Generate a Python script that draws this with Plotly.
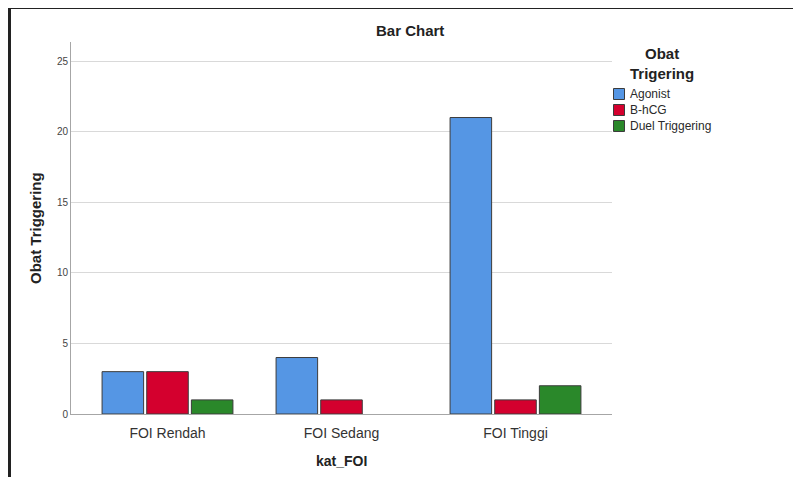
import plotly.graph_objects as go

categories = ["FOI Rendah", "FOI Sedang", "FOI Tinggi"]
agonist = [3, 4, 21]
bhcg = [3, 1, 1]
duel = [1, 0, 2]
series_names = ["Agonist", "B-hCG", "Duel Triggering"]
colors = ["#5596e4", "#d4002e", "#2a882a"]
y_ticks = [0, 5, 10, 15, 20, 25]

# page body has an 8px margin; figure sized to fit 801x477 window
OFF = 8
W, H = 801 - OFF, 477 - OFF
# plot area in screenshot coordinates
L, R, T, B = 71, 612, 42, 414
pw, ph = R - L, B - T

def px(x):
    return (x - L) / pw

def py(y):
    return (B - y) / ph

fig = go.Figure()
for name, vals, col in zip(series_names, [agonist, bhcg, duel], colors):
    fig.add_trace(go.Bar(
        x=categories, y=vals, name=name,
        marker=dict(color=col,
                    line=dict(color="#3c3c3c", width=[1 if v > 0 else 0 for v in vals])),
    ))

fig.update_layout(
    width=W, height=H,
    margin=dict(l=L - OFF, r=W - (R - OFF), t=T - OFF, b=H - (B - OFF), pad=0),
    paper_bgcolor="white", plot_bgcolor="white",
    barmode="group", bargap=0.23, bargroupgap=0.07,
    font=dict(family="Liberation Sans, Arial, sans-serif", color="#333333"),
    showlegend=False,
)

fig.update_xaxes(
    range=[-0.5546, 2.5546],
    showline=True, linecolor="#a6a6a6", linewidth=1,
    showgrid=False, ticks="", ticklabelstandoff=6,
    tickfont=dict(size=14, color="#333333"),
)
fig.update_yaxes(
    range=[0, 26.35],
    tickvals=y_ticks,
    showline=True, linecolor="#a6a6a6", linewidth=1,
    showgrid=True, gridcolor="#d9d9d9", gridwidth=1,
    zeroline=False, ticks="",
    tickfont=dict(size=10, color="#444444"),
)

def ann(text, x, y, size, **kw):
    fig.add_annotation(text=text, x=px(x), y=py(y), xref="paper", yref="paper",
                       showarrow=False, font=dict(size=size, color=kw.pop("color", "#222222")),
                       xanchor=kw.pop("xanchor", "center"), yanchor="middle", **kw)

ann("<b>Bar Chart</b>", 410, 30, 15)
ann("<b>kat_FOI</b>", 341, 461, 14)
ann("<b>Obat Triggering</b>", 35, 228, 15, textangle=-90)
ann("<b>Obat<br>Trigering</b>", 662, 64, 15, align="center")

# legend entries
for i, (name, col) in enumerate(zip(series_names, colors)):
    yc = 94 + 16 * i
    fig.add_shape(type="rect", xref="paper", yref="paper",
                  x0=px(613.5), x1=px(624.5), y0=py(yc - 5.5), y1=py(yc + 5.5),
                  fillcolor=col, line=dict(color="#3c3c3c", width=1))
    ann(name, 628, yc, 12, color="#2a2a2a", xanchor="left")

# frame lines (left and top)
fig.add_shape(type="line", xref="paper", yref="paper",
              x0=px(8), x1=px(801), y0=py(7.5), y1=py(7.5),
              line=dict(color="#222222", width=3))
fig.add_shape(type="line", xref="paper", yref="paper",
              x0=px(9.5), x1=px(9.5), y0=py(6), y1=py(477),
              line=dict(color="#222222", width=3))

fig.write_html("out.html")
